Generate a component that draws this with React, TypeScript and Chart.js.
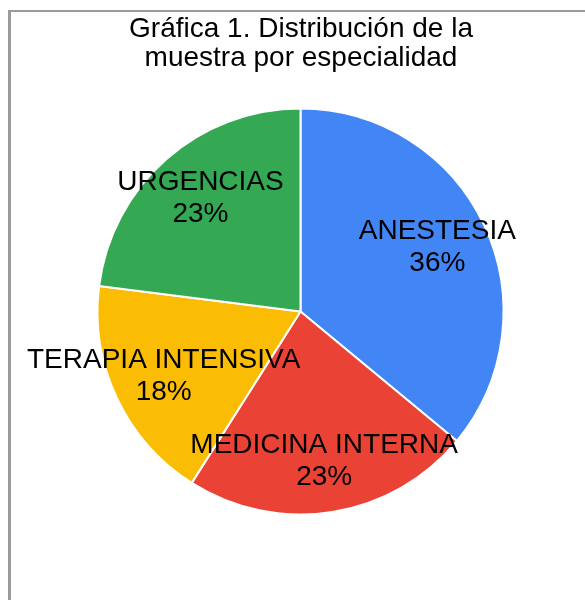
import React, { useEffect, useRef } from "react";
import { Chart, registerables } from "chart.js";

Chart.register(...registerables);

const titleLines = ["Gráfica 1. Distribución de la", "muestra por especialidad"];
const categories = ["ANESTESIA", "MEDICINA INTERNA", "TERAPIA INTENSIVA", "URGENCIAS"];
const values = [36, 23, 18, 23];
const colors = ["#4285F4", "#EA4335", "#FBBC04", "#34A853"];

const FONT = "'Liberation Sans', Arial, sans-serif";

const titlePlugin = {
  id: "customTitle",
  afterDraw(chart: any) {
    const ctx = chart.ctx;
    ctx.save();
    ctx.fillStyle = "#000";
    ctx.font = `28px ${FONT}`;
    ctx.textAlign = "center";
    ctx.textBaseline = "alphabetic";
    ctx.fillText(titleLines[0], 301, 37);
    ctx.fillText(titleLines[1], 301, 66);
    ctx.restore();
  },
};

const labelPlugin = {
  id: "sliceLabels",
  afterDatasetsDraw(chart: any) {
    const ctx = chart.ctx;
    const meta = chart.getDatasetMeta(0);
    const data = chart.data.datasets[0].data as number[];
    const total = data.reduce((a: number, b: number) => a + b, 0);
    ctx.save();
    ctx.fillStyle = "#000";
    ctx.font = `28px ${FONT}`;
    ctx.textAlign = "center";
    ctx.textBaseline = "alphabetic";
    meta.data.forEach((arc: any, i: number) => {
      const p = arc.getProps(["x", "y", "startAngle", "endAngle", "outerRadius"], true);
      const mid = (p.startAngle + p.endAngle) / 2;
      const r = p.outerRadius * 0.745;
      const cx = p.x + Math.cos(mid) * r;
      const cy = p.y + Math.sin(mid) * r;
      const pct = Math.round((data[i] / total) * 100) + "%";
      ctx.fillText(chart.data.labels[i], cx, cy - 8);
      ctx.fillText(pct, cx, cy + 24);
    });
    ctx.restore();
  },
};

export default function App() {
  const ref = useRef<HTMLCanvasElement | null>(null);
  useEffect(() => {
    if (!ref.current) return;
    const chart = new Chart(ref.current, {
      type: "pie",
      data: {
        labels: categories,
        datasets: [
          {
            data: values,
            backgroundColor: colors,
            borderColor: "#ffffff",
            borderWidth: 2,
          },
        ],
      },
      options: {
        responsive: false,
        animation: false,
        devicePixelRatio: 1,
        radius: 203,
        layout: { padding: { left: 16, right: 0, top: 23, bottom: 0 } },
        plugins: {
          legend: { display: false },
          title: { display: false },
          tooltip: { enabled: false },
        },
      } as any,
      plugins: [titlePlugin, labelPlugin],
    });
    return () => chart.destroy();
  }, []);

  return (
    <div
      style={{
        position: "fixed",
        left: 0,
        top: 0,
        width: 585,
        height: 600,
        overflow: "hidden",
        background: "#fff",
      }}
    >
      <div
        style={{
          position: "absolute",
          left: 8,
          top: 10,
          width: 700,
          height: 700,
          borderLeft: "3px solid #9a9a9a",
          borderTop: "2px solid #9a9a9a",
          boxSizing: "border-box",
        }}
      />
      <canvas
        ref={ref}
        width={585}
        height={600}
        style={{ position: "absolute", left: 0, top: 0 }}
      />
    </div>
  );
}
